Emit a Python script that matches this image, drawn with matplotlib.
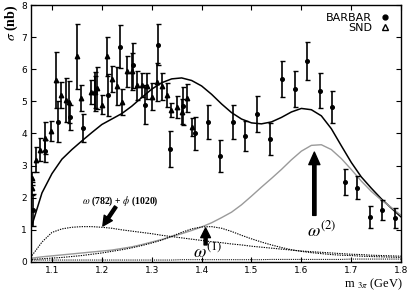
import numpy as np
import matplotlib
matplotlib.use('Agg')
import matplotlib.pyplot as plt
from matplotlib.lines import Line2D

# BaBar points (circles)
babar_m = [1.062, 1.087, 1.112, 1.137, 1.162, 1.187, 1.212, 1.237, 1.262, 1.287,
           1.312, 1.337, 1.362, 1.387, 1.412, 1.437, 1.462, 1.487, 1.512, 1.537,
           1.562, 1.587, 1.612, 1.637, 1.662, 1.687, 1.712, 1.737, 1.762, 1.787]
babar_s = [1.62, 3.45, 4.36, 4.50, 4.17, 5.30, 5.20, 6.70, 6.13, 4.90,
           6.77, 3.52, 4.86, 4.00, 4.36, 3.30, 4.36, 3.92, 4.61, 3.83,
           5.70, 5.39, 6.26, 5.33, 4.83, 2.50, 2.31, 1.40, 1.62, 1.37]
babar_e = [0.50, 0.35, 0.64, 0.40, 0.45, 0.60, 0.65, 0.67, 0.70, 0.62,
           0.65, 0.55, 0.60, 0.52, 0.53, 0.50, 0.53, 0.48, 0.55, 0.50,
           0.55, 0.56, 0.58, 0.55, 0.50, 0.40, 0.36, 0.33, 0.31, 0.31]

# SND points (triangles)
snd_m = [1.059, 1.060, 1.068, 1.077, 1.086, 1.098, 1.108, 1.118, 1.128, 1.134,
         1.150, 1.158, 1.178, 1.186, 1.190, 1.200, 1.210, 1.220, 1.230, 1.240,
         1.250, 1.260, 1.270, 1.280, 1.290, 1.300, 1.310, 1.320, 1.330, 1.338,
         1.350, 1.360, 1.370, 1.380]
snd_s = [2.60, 2.30, 3.18, 3.50, 3.85, 4.08, 5.67, 5.20, 5.05, 4.98,
         6.40, 5.10, 5.30, 5.30, 5.42, 4.90, 6.40, 5.70, 5.48, 4.98,
         5.93, 5.93, 5.50, 5.50, 5.48, 5.15, 5.60, 5.47, 5.20, 4.73,
         4.83, 4.68, 5.10, 4.20]
snd_e = [0.20, 0.20, 0.39, 0.35, 0.50, 0.30, 0.87, 0.40, 0.68, 0.65,
         1.00, 0.40, 0.37, 0.50, 0.65, 0.30, 0.60, 0.40, 0.60, 0.40,
         0.47, 0.57, 0.45, 0.37, 0.40, 0.42, 0.60, 0.42, 0.37, 0.23,
         0.34, 0.39, 0.44, 0.29]

m_grid = [1.06, 1.08, 1.10, 1.12, 1.14, 1.16, 1.18, 1.20, 1.22, 1.24,
          1.26, 1.28, 1.30, 1.32, 1.34, 1.36, 1.38, 1.40, 1.42, 1.44,
          1.46, 1.48, 1.50, 1.52, 1.54, 1.56, 1.58, 1.60, 1.62, 1.64,
          1.66, 1.68, 1.70, 1.72, 1.74, 1.76, 1.78, 1.80]
total = [1.15, 2.15, 2.75, 3.20, 3.50, 3.77, 4.03, 4.28, 4.45, 4.62,
         4.85, 5.12, 5.38, 5.58, 5.70, 5.73, 5.65, 5.48, 5.22, 4.92,
         4.65, 4.45, 4.33, 4.30, 4.36, 4.50, 4.67, 4.78, 4.74, 4.55,
         4.15, 3.62, 3.10, 2.65, 2.30, 1.97, 1.68, 1.40]
omega2 = [0.12, 0.16, 0.19, 0.22, 0.25, 0.28, 0.31, 0.34, 0.37, 0.42,
          0.47, 0.54, 0.62, 0.70, 0.79, 0.88, 0.98, 1.09, 1.22, 1.38,
          1.55, 1.78, 2.05, 2.33, 2.60, 2.88, 3.18, 3.45, 3.63, 3.65,
          3.50, 3.22, 2.88, 2.52, 2.20, 1.93, 1.70, 1.45]
omega1 = [0.08, 0.10, 0.12, 0.14, 0.17, 0.20, 0.24, 0.28, 0.33, 0.38,
          0.44, 0.51, 0.59, 0.68, 0.80, 0.92, 1.03, 1.09, 1.10, 1.05,
          0.95, 0.83, 0.72, 0.62, 0.53, 0.45, 0.38, 0.33, 0.29, 0.26,
          0.23, 0.21, 0.20, 0.18, 0.17, 0.16, 0.15, 0.14]
omphi = [0.20, 0.62, 0.92, 1.03, 1.08, 1.10, 1.10, 1.08, 1.05, 1.00,
         0.96, 0.92, 0.88, 0.83, 0.79, 0.75, 0.71, 0.67, 0.63, 0.60,
         0.56, 0.53, 0.49, 0.46, 0.43, 0.40, 0.37, 0.34, 0.32, 0.30,
         0.28, 0.26, 0.24, 0.23, 0.21, 0.20, 0.19, 0.18]
interf = [0.06, 0.06, 0.06, 0.06, 0.06, 0.06, 0.06, 0.06, 0.06, 0.06,
          0.06, 0.06, 0.06, 0.06, 0.06, 0.07, 0.07, 0.07, 0.07, 0.07,
          0.07, 0.07, 0.07, 0.07, 0.08, 0.08, 0.08, 0.08, 0.08, 0.08,
          0.08, 0.08, 0.09, 0.09, 0.09, 0.09, 0.09, 0.09]

plt.rcParams['mathtext.fontset'] = 'stix'
fig = plt.figure(figsize=(4.09, 2.95), dpi=100)
ax = fig.add_axes([0.0758, 0.112, 0.905, 0.871])

ax.plot(m_grid, total, color='black', lw=1.1)
ax.plot(m_grid, omega2, color='#9a9a9a', lw=1.0)
ax.plot(m_grid, omega1, color='black', lw=0.8, ls=(0, (1.2, 1.0)))
ax.plot(m_grid, omphi, color='black', lw=0.8, ls=(0, (1.2, 1.0)))
ax.plot(m_grid, interf, color='black', lw=0.7, ls=(0, (1.2, 1.0)))

ax.errorbar(snd_m, snd_s, yerr=snd_e, fmt='^', ms=3.2, color='black',
            elinewidth=1.2, capsize=1.8, capthick=1.0)
ax.errorbar(babar_m, babar_s, yerr=babar_e, fmt='o', ms=2.6, color='black',
            elinewidth=1.2, capsize=1.8, capthick=1.0)

# annotations
ax.annotate('', xy=(1.202, 1.12), xytext=(1.228, 1.72),
            arrowprops=dict(facecolor='black', edgecolor='black', width=2.2,
                            headwidth=7, headlength=7))
ax.text(1.238, 1.88, r'$\omega$ (782) + $\phi$ (1020)', fontsize=7,
        family='Liberation Serif', ha='center', va='center', fontweight='bold')
ax.annotate('', xy=(1.408, 1.06), xytext=(1.408, 0.53),
            arrowprops=dict(facecolor='black', edgecolor='black', width=2.2,
                            headwidth=7, headlength=7))
ax.text(1.412, 0.02, r'$\omega^{(1)}$', fontsize=13, ha='center', va='bottom')
ax.annotate('', xy=(1.626, 3.42), xytext=(1.626, 1.45),
            arrowprops=dict(facecolor='black', edgecolor='black', width=2.4,
                            headwidth=8, headlength=9))
ax.text(1.64, 0.98, r'$\omega^{(2)}$', fontsize=13, ha='center', va='center')

handles = [Line2D([], [], ls='none', marker='o', ms=3.5, color='black'),
           Line2D([], [], ls='none', marker='^', ms=4, mfc='white', mec='black')]
ax.legend(handles, ['BARBAR', 'SND'], loc='upper right', frameon=False,
          markerfirst=False, fontsize=8, handlelength=0.8, handletextpad=0.8,
          labelspacing=0.05, borderaxespad=0.3, bbox_to_anchor=(0.99, 1.0))

ax.set_xlim(1.058, 1.8)
ax.set_ylim(0, 8)
ax.set_xticks([1.1, 1.2, 1.3, 1.4, 1.5, 1.6, 1.7, 1.8])
ax.set_yticks(range(0, 9))
ax.tick_params(direction='in', top=True, right=True, length=3.5, width=0.8,
               labelsize=6.5, pad=3)
for s in ax.spines.values():
    s.set_linewidth(1.0)

fig.text(0.028, 0.985, r'$\sigma$ (nb)', rotation=90, ha='center', va='top',
         fontsize=10, family='Liberation Serif', fontweight='bold')
fig.text(0.985, 0.01, r'm $_{3\pi}$ (GeV)', ha='right', va='bottom',
         fontsize=9, family='Liberation Serif')

fig.savefig('out.png', dpi=100)
